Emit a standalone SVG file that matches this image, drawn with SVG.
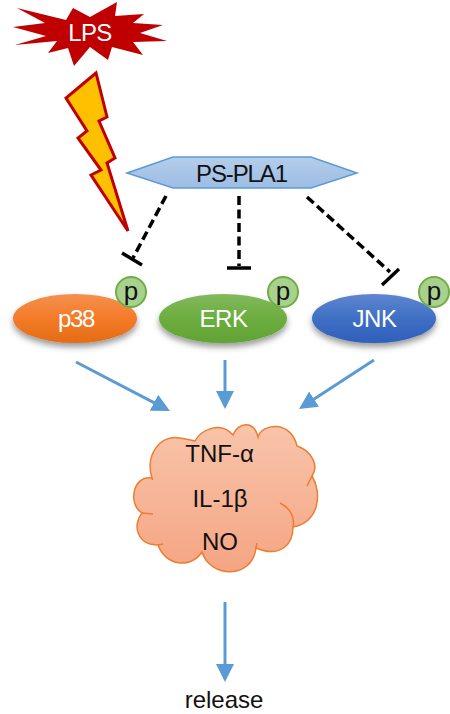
<svg xmlns="http://www.w3.org/2000/svg" width="450" height="714" viewBox="0 0 450 714">
<defs>
<style>
text{font-family:"Liberation Sans",Arial,sans-serif;text-anchor:middle}
.w{fill:#fff;font-size:24px}
.k{fill:#111;font-size:24px}
.p{fill:#111;font-size:26px}
.dash{fill:none;stroke:#000;stroke-width:3.5;stroke-dasharray:9 4.5}
.bar{fill:none;stroke:#000;stroke-width:3.5}
.blue{fill:none;stroke:#5b9bd5;stroke-width:3}
.pc{fill:#a9d18e;stroke:#70ad47;stroke-width:2}
</style>
<linearGradient id="go" x1="0" y1="0" x2="0" y2="1"><stop offset="0" stop-color="#f4914f"/><stop offset="0.5" stop-color="#f47b28"/><stop offset="1" stop-color="#e36c15"/></linearGradient>
<linearGradient id="gg" x1="0" y1="0" x2="0" y2="1"><stop offset="0" stop-color="#82b95e"/><stop offset="0.5" stop-color="#6cad3e"/><stop offset="1" stop-color="#62a335"/></linearGradient>
<linearGradient id="gb" x1="0" y1="0" x2="0" y2="1"><stop offset="0" stop-color="#5f86cf"/><stop offset="0.5" stop-color="#3f6fc4"/><stop offset="1" stop-color="#2f5fba"/></linearGradient>
<linearGradient id="gh" x1="0" y1="0" x2="0" y2="1"><stop offset="0" stop-color="#b4cdeb"/><stop offset="1" stop-color="#9dbde4"/></linearGradient>
<linearGradient id="gc" x1="0" y1="0" x2="0" y2="1"><stop offset="0" stop-color="#f8c4aa"/><stop offset="1" stop-color="#f5a583"/></linearGradient>
<filter id="sh" x="-20%" y="-20%" width="140%" height="150%"><feDropShadow dx="0" dy="4" stdDeviation="3" flood-color="#000" flood-opacity="0.4"/></filter>
<marker id="ah" markerUnits="userSpaceOnUse" markerWidth="20" markerHeight="20" refX="15" refY="10" orient="auto"><path d="M0 1L18 10L0 19Z" fill="#5b9bd5"/></marker>
</defs>
<g id="connectors">
<path class="dash" d="M166 196L133 258"/><path class="bar" d="M122 253L142 265"/>
<path class="dash" d="M239 196V266"/><path class="bar" d="M227 268H251"/>
<path class="dash" d="M307 197L390 272"/><path class="bar" d="M399 269L382 285"/>
<path class="blue" marker-end="url(#ah)" d="M76 362L167.300 409.600"/>
<path class="blue" marker-end="url(#ah)" d="M225 360V406"/>
<path class="blue" marker-end="url(#ah)" d="M374 360L301.500 407.300"/>
<path class="blue" marker-end="url(#ah)" d="M225 602V679"/>
</g>
<g id="lps">
<path d="M17 8L66 20L73 8L90 17L117 2L115 16L144 14L133 23L163 25L140 33L167 41L133 42L143 55L112 47L108 60L90 47L74 66L68 48L48 53L57 41L15 45L46 36L13 27L45 23Z" fill="#c00000"/>
<text class="w" x="90" y="41" letter-spacing="-0.700">LPS</text>
</g>
<g id="bolt"><path d="M96 73L66 98L87 131L78 138L101 170L91 175L128 231L107 163L115 158L99 121L107 117Z" fill="#ffc000" stroke="#c00000" stroke-width="3"/></g>
<g id="pspla1">
<path d="M127 173L173 157H311L357 173L311 188H173Z" fill="url(#gh)" stroke="#5b9bd5" stroke-width="1.500"/>
<text class="k" x="241.500" y="182" letter-spacing="-1.100">PS-PLA1</text>
</g>
<g id="p38">
<ellipse cx="75" cy="318.500" rx="62" ry="24.500" fill="url(#go)" filter="url(#sh)"/>
<circle class="pc" cx="131" cy="292" r="15"/>
<text class="p" x="131" y="300">p</text>
<text class="w" x="76" y="327" letter-spacing="-1.300">p38</text>
</g>
<g id="erk">
<ellipse cx="223" cy="318.500" rx="64" ry="24.500" fill="url(#gg)" filter="url(#sh)"/>
<circle class="pc" cx="283" cy="292" r="15"/>
<text class="p" x="283" y="300">p</text>
<text class="w" x="223.500" y="327" letter-spacing="-0.500">ERK</text>
</g>
<g id="jnk">
<ellipse cx="374" cy="318.500" rx="62" ry="24.500" fill="url(#gb)" filter="url(#sh)"/>
<circle class="pc" cx="434" cy="292" r="15"/>
<text class="p" x="434" y="300">p</text>
<text class="w" x="374.500" y="327" letter-spacing="-0.500">JNK</text>
</g>
<g id="cloud">
<path d="M152 478C145 455 160 434 180 438C186 439 191 440 195 441C200 431 220 420 233 435C238 422 254 420 258 437C262 423 291 420 297 446C310 450 320 465 312 476C322 492 320 522 293 527C293 545 280 558 256 548C252 580 210 578 202 552C190 570 165 565 158 545C137 545 132 525 142 513C128 505 132 475 152 478Z" fill="url(#gc)" stroke="#ed7d31" stroke-width="1.500"/>
<path d="M152 478l0.500 2M142 513l11 1M158 545l5-1M202 552l1 3M256 548l1-5M280 503C290 508 295 517 293 527M312 476l-5 10" fill="none" stroke="#ed7d31" stroke-width="1.500"/>
<text class="k" x="219.500" y="462">TNF-α</text>
<text class="k" x="220" y="507">IL-1β</text>
<text class="k" x="220" y="550">NO</text>
</g>
<g id="release"><text class="k" x="224" y="708">release</text></g>
</svg>
